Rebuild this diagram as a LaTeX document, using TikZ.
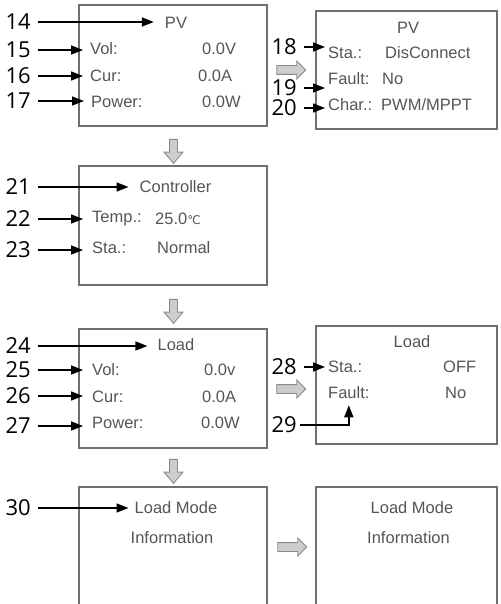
\documentclass[tikz,border=0pt]{standalone}
\usepackage{fontspec}
\setmainfont{Liberation Sans}
\newfontfamily\numfont{Open Sans}
\newfontfamily\symfont{DejaVu Sans}
\usepackage{tikz}
\usetikzlibrary{arrows.meta,positioning,shapes.arrows}
\definecolor{boxgray}{HTML}{707070}
\definecolor{txtgray}{HTML}{555555}
\definecolor{arrgray}{HTML}{8A8A8A}
\definecolor{arrfill}{HTML}{CDCDCD}

\begin{document}
\begin{tikzpicture}[x=1pt, y=-1pt,
    panel/.style={draw=boxgray, line width=1.6pt, inner sep=0pt},
    wide/.style={panel, minimum width=188pt},
    narrow/.style={panel, minimum width=181pt},
    txt/.style={font=\fontsize{16.5}{18}\selectfont, text=txtgray, inner sep=0pt, anchor=west},
    ttl/.style={font=\fontsize{16.5}{18}\selectfont, text=txtgray, inner sep=0pt},
    num/.style={font=\numfont\fontsize{22}{24}\selectfont, inner sep=1pt},
    callout/.style={-{Triangle[length=12pt,width=9pt]}, line width=1.5pt, shorten <=6pt},
    downarr/.style={single arrow, draw=arrgray, fill=arrfill, line width=0.9pt,
      inner sep=3.5pt, minimum height=24pt, single arrow head extend=5.5pt,
      single arrow tip angle=80, shape border rotate=270},
    rightarr/.style={downarr, minimum height=29pt, inner sep=4pt,
      single arrow head extend=4.5pt, single arrow tip angle=90, shape border rotate=0}
  ]
    \useasboundingbox (0,0) rectangle (500,604);
    \clip (0,0) rectangle (500,604);

    % panels
    \node[wide, minimum height=121pt] (pv) at (173,65.5) {};
    \node[narrow, minimum height=118pt] (pvx) at (406.5,70) {};
    \node[wide, minimum height=119pt] (ctl) at (173,225.5) {};
    \node[wide, minimum height=119pt] (ld) at (173,388.5) {};
    \node[narrow, minimum height=118pt] (ldx) at (406.5,385) {};
    \node[wide, minimum height=150pt] (mode) at (173,562) {};
    \node[narrow, minimum height=150pt] (modex) at (406.5,562) {};

    % block arrows
    \node[downarr] (d1) at (173.5,149) {};
    \node[downarr] (d2) at (173.5,309) {};
    \node[downarr] (d3) at (173.5,469) {};
    \node[rightarr] (r1) at (289,70) {};
    \node[rightarr] (r2) at (289,389) {};
    \node[rightarr] (r3) at (290,547) {};

    % PV page
    \node[ttl] (pvT) at (176,23) {PV};
    \node[txt] (pvVol) at (90,49) {Vol:};
    \node[txt] at (202,49) {0.0V};
    \node[txt] (pvCur) at (90,76) {Cur:};
    \node[txt] at (198,76) {0.0A};
    \node[txt] (pvPow) at (91,101.5) {Power:};
    \node[txt] at (202,101.5) {0.0W};

    % PV status page
    \node[ttl] at (408,28) {PV};
    \node[txt] (pvSta) at (328,53) {Sta.:};
    \node[txt] at (385,53) {DisConnect};
    \node[txt] (pvFlt) at (328,79) {Fault:};
    \node[txt] at (382,79) {No};
    \node[txt] (pvChr) at (328,104.5) {Char.:};
    \node[txt] at (381,104.5) {PWM/MPPT};

    % controller page
    \node[ttl] (ctlT) at (175.5,187) {Controller};
    \node[txt] (ctlTmp) at (92,219) {Temp.:};
    \node[txt] at (155,219) {25.0{\symfont\fontsize{12}{13}\selectfont ℃}};
    \node[txt] (ctlSta) at (92,248) {Sta.:};
    \node[txt] at (157,248) {Normal};

    % load page
    \node[ttl] (ldT) at (176,345) {Load};
    \node[txt] (ldVol) at (92,370) {Vol:};
    \node[txt] at (204,370) {0.0v};
    \node[txt] (ldCur) at (92,397) {Cur:};
    \node[txt] at (202,397) {0.0A};
    \node[txt] (ldPow) at (92,423) {Power:};
    \node[txt] at (201,423) {0.0W};

    % load status page
    \node[ttl] at (412,342) {Load};
    \node[txt] (ldSta) at (328,367) {Sta.:};
    \node[txt] at (443,367) {OFF};
    \node[txt] (ldFlt) at (328,393) {Fault:};
    \node[txt] at (445,393) {No};

    % load mode pages
    \node[ttl] (modeT) at (176,508) {Load Mode};
    \node[ttl] at (172,538) {Information};
    \node[ttl] at (412,508) {Load Mode};
    \node[ttl] at (408.5,538) {Information};

    % reference numerals
    \node[num, anchor=east] (n14) at (32,22) {14};
    \node[num, anchor=east] (n15) at (32,50) {15};
    \node[num, anchor=east] (n16) at (32,76) {16};
    \node[num, anchor=east] (n17) at (32,101) {17};
    \node[num, anchor=east] (n18) at (298,47) {18};
    \node[num, anchor=east] (n19) at (298,88) {19};
    \node[num, anchor=east] (n20) at (298,108) {20};
    \node[num, anchor=east] (n21) at (32,187) {21};
    \node[num, anchor=east] (n22) at (32,219) {22};
    \node[num, anchor=east] (n23) at (32,250) {23};
    \node[num, anchor=east] (n24) at (32,346) {24};
    \node[num, anchor=east] (n25) at (32,370) {25};
    \node[num, anchor=east] (n26) at (32,396) {26};
    \node[num, anchor=east] (n27) at (32,426) {27};
    \node[num, anchor=east] (n28) at (298,367) {28};
    \node[num, anchor=east] (n29) at (298,425) {29};
    \node[num, anchor=east] (n30) at (32,508) {30};

    \draw[callout, shorten >=11pt] (n14) -- (n14 -| pvT.west);
    \draw[callout, shorten >=7pt] (n15) -- (n15 -| pvVol.west);
    \draw[callout, shorten >=7pt] (n16) -- (n16 -| pvCur.west);
    \draw[callout, shorten >=7pt] (n17) -- (n17 -| pvPow.west);
    \draw[callout, shorten >=3pt] (n18) -- (n18 -| pvSta.west);
    \draw[callout, shorten >=3pt] (n19) -- (n19 -| pvFlt.west);
    \draw[callout, shorten >=3pt] (n20) -- (n20 -| pvChr.west);
    \draw[callout, shorten >=11pt] (n21) -- (n21 -| ctlT.west);
    \draw[callout, shorten >=9pt] (n22) -- (n22 -| ctlTmp.west);
    \draw[callout, shorten >=9pt] (n23) -- (n23 -| ctlSta.west);
    \draw[callout, shorten >=10pt] (n24) -- (n24 -| ldT.west);
    \draw[callout, shorten >=9pt] (n25) -- (n25 -| ldVol.west);
    \draw[callout, shorten >=9pt] (n26) -- (n26 -| ldCur.west);
    \draw[callout, shorten >=9pt] (n27) -- (n27 -| ldPow.west);
    \draw[callout, shorten >=3pt] (n28) -- (n28 -| ldSta.west);
    \draw[callout, shorten <=2pt, shorten >=6pt] (n29) -| (ldFlt.south);
    \draw[callout, shorten >=6pt] (n30) -- (n30 -| modeT.west);
  \end{tikzpicture}
\end{document}
